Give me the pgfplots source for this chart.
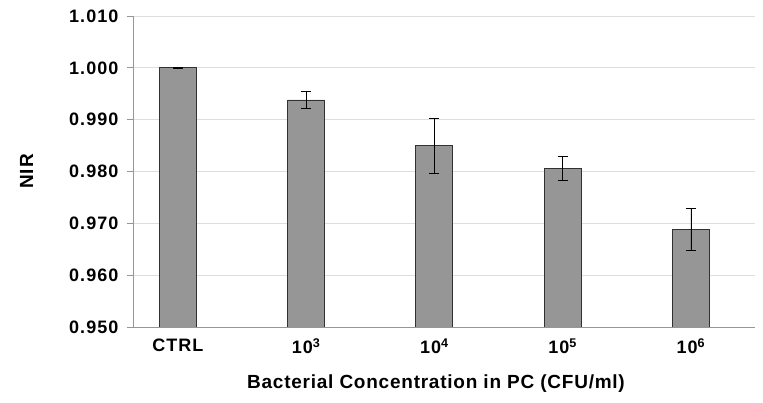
\documentclass[border=0pt]{standalone}
\usepackage{fontspec}
\setmainfont{Liberation Sans}
\newfontfamily\tickfont[LetterSpace=6]{Liberation Sans}
\newfontfamily\labfont[LetterSpace=4]{Liberation Sans}
\usepackage{pgfplots}
\pgfplotsset{compat=1.18}
\definecolor{barfill}{RGB}{150,150,150}
\definecolor{bardraw}{RGB}{50,50,50}
\definecolor{gridgray}{RGB}{222,222,222}
\definecolor{axisgray}{RGB}{150,150,150}
\begin{document}
\begin{tikzpicture}
\begin{axis}[
    scale only axis,
    width=622pt, height=311pt,
    ymin=0.950, ymax=1.010,
    xmin=-0.35, xmax=4.5,
    ytick={0.950,0.960,0.970,0.980,0.990,1.000,1.010},
    xtick={0,1,2,3,4},
    xticklabels={CTRL,10\textsuperscript{3},10\textsuperscript{4},10\textsuperscript{5},10\textsuperscript{6}},
    /pgf/number format/assume math mode=true,
    yticklabel style={/pgf/number format/fixed, /pgf/number format/fixed zerofill,
      /pgf/number format/precision=3, xshift=-5pt},
    xticklabel style={yshift=-2pt},
    ticklabel style={font=\tickfont\bfseries\fontsize{18}{20}\selectfont},
    axis x line*=bottom, axis y line*=left,
    axis line style={axisgray, line width=0.8pt},
    ymajorgrids, grid style={gridgray, line width=0.8pt},
    tick align=outside, major tick length=6pt,
    ytick style={axisgray, line width=0.8pt},
    xtick style={draw=none},
    xlabel={Bacterial Concentration in PC (CFU/ml)},
    ylabel={NIR},
    xlabel style={font=\labfont\bfseries\fontsize{19}{22}\selectfont, yshift=-14pt, xshift=-8pt},
    ylabel style={font=\tickfont\bfseries\fontsize{19}{22}\selectfont},
    ylabel shift=29pt,
    ybar, bar width=37pt,
  ]
  \addplot[fill=barfill, draw=bardraw, line width=0.8pt,
    error bars/.cd, y dir=both, y explicit,
    error bar style={black, line width=0.7pt},
    error mark options={black, mark size=5pt, rotate=90, line width=0.9pt}]
    coordinates {
      (0,1.0000) +- (0,0.0001)
      (1,0.9938) +- (0,0.0017)
      (2,0.9850) +- (0,0.0053)
      (3,0.9806) +- (0,0.0023)
      (4,0.9688) +- (0,0.0041)
    };
  \coordinate (o) at (rel axis cs:0,0);
\end{axis}
\path (o) ++(-133pt,-76pt) rectangle ++(763pt,403pt);
\end{tikzpicture}
\end{document}
